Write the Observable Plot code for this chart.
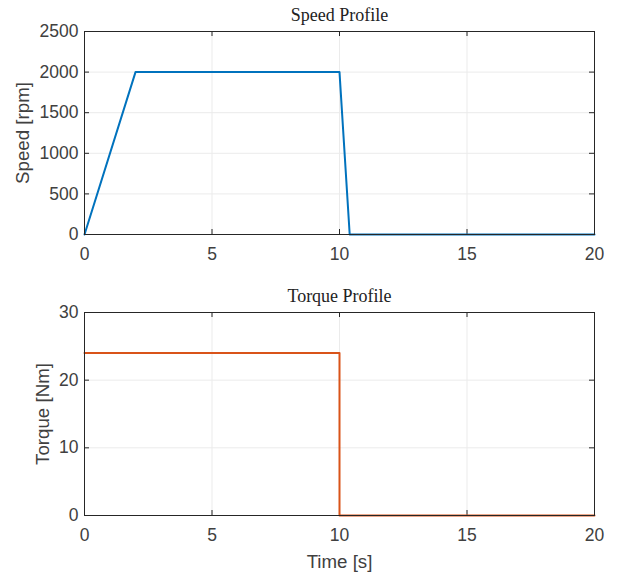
<!DOCTYPE html>
<html><head><meta charset="utf-8">
<script src="https://cdn.jsdelivr.net/npm/d3@7"></script>
<script src="https://cdn.jsdelivr.net/npm/@observablehq/plot@0.6"></script>
<style>
body{margin:0;background:#fff;}
#c{position:relative;width:617px;height:577px;}
#c svg{display:block;}
</style></head><body><div id="c"></div>
<script>
const speedTime = [0, 2, 10, 10.4, 20];
const speedRpm = [0, 2000, 2000, 0, 0];
const torqueTime = [0, 10, 10, 20];
const torqueNm = [24, 24, 0, 0];
const xTicks = [0, 5, 10, 15, 20];
const speedTicks = [0, 500, 1000, 1500, 2000, 2500];
const torqueTicks = [0, 10, 20, 30];

const axisColor = "#262626";
const labelColor = "#404040";
const gridColor = "#ebebeb";

function panel({xs, ys, yTicks, yDomain, color, title, ylabel, ylabelDx, xlabel, height, marginTop, marginBottom}) {
  const data = xs.map((x, i) => ({x, y: ys[i]}));
  const ph = height - marginTop - marginBottom;
  const marks = [
    Plot.gridX(xTicks, {stroke: gridColor, strokeOpacity: 1}),
    Plot.gridY(yTicks, {stroke: gridColor, strokeOpacity: 1}),
    Plot.ruleX(xTicks, {stroke: axisColor, insetTop: ph - 5}),
    Plot.ruleX(xTicks, {stroke: axisColor, insetBottom: ph - 5}),
    Plot.ruleY(yTicks, {stroke: axisColor, insetRight: 510 - 5}),
    Plot.ruleY(yTicks, {stroke: axisColor, insetLeft: 510 - 5}),
    Plot.line(data, {x: "x", y: "y", stroke: color, strokeWidth: 2}),
    Plot.frame({stroke: axisColor, strokeWidth: 1}),
    Plot.axisX(xTicks, {tickSize: 0, tickPadding: 13, fontSize: 17.5, fill: labelColor, label: null, tickFormat: d3.format("d")}),
    Plot.axisY(yTicks, {tickSize: 0, tickPadding: 6, fontSize: 17.5, fill: labelColor, label: null, tickFormat: d3.format("d")}),
    Plot.text([title], {frameAnchor: "top", lineAnchor: "bottom", dy: -11, fontSize: 18, fontFamily: "Liberation Serif, DejaVu Serif, serif", fill: "#222"}),
    Plot.text([ylabel], {frameAnchor: "left", textAnchor: "middle", dx: ylabelDx, rotate: -90, fontSize: 18.7, fill: labelColor})
  ];
  if (xlabel) marks.push(Plot.text([xlabel], {frameAnchor: "bottom", dy: 52, fontSize: 18.7, fill: labelColor}));
  return Plot.plot({
    width: 617, height, marginLeft: 84, marginRight: 23, marginTop, marginBottom,
    style: {fontFamily: "Liberation Sans, Arial, sans-serif", background: "#fff", overflow: "visible"},
    x: {domain: [0, 20], axis: null},
    y: {domain: yDomain, axis: null},
    marks
  });
}

const c = document.getElementById("c");
c.appendChild(panel({xs: speedTime, ys: speedRpm, yTicks: speedTicks, yDomain: [0, 2500], color: "#0072BD",
  title: "Speed Profile", ylabel: "Speed [rpm]", ylabelDx: -61, height: 277, marginTop: 31, marginBottom: 43}));
c.appendChild(panel({xs: torqueTime, ys: torqueNm, yTicks: torqueTicks, yDomain: [0, 30], color: "#D95319",
  title: "Torque Profile", ylabel: "Torque [Nm]", ylabelDx: -41, xlabel: "Time [s]", height: 300, marginTop: 35, marginBottom: 62}));
</script></body></html>
